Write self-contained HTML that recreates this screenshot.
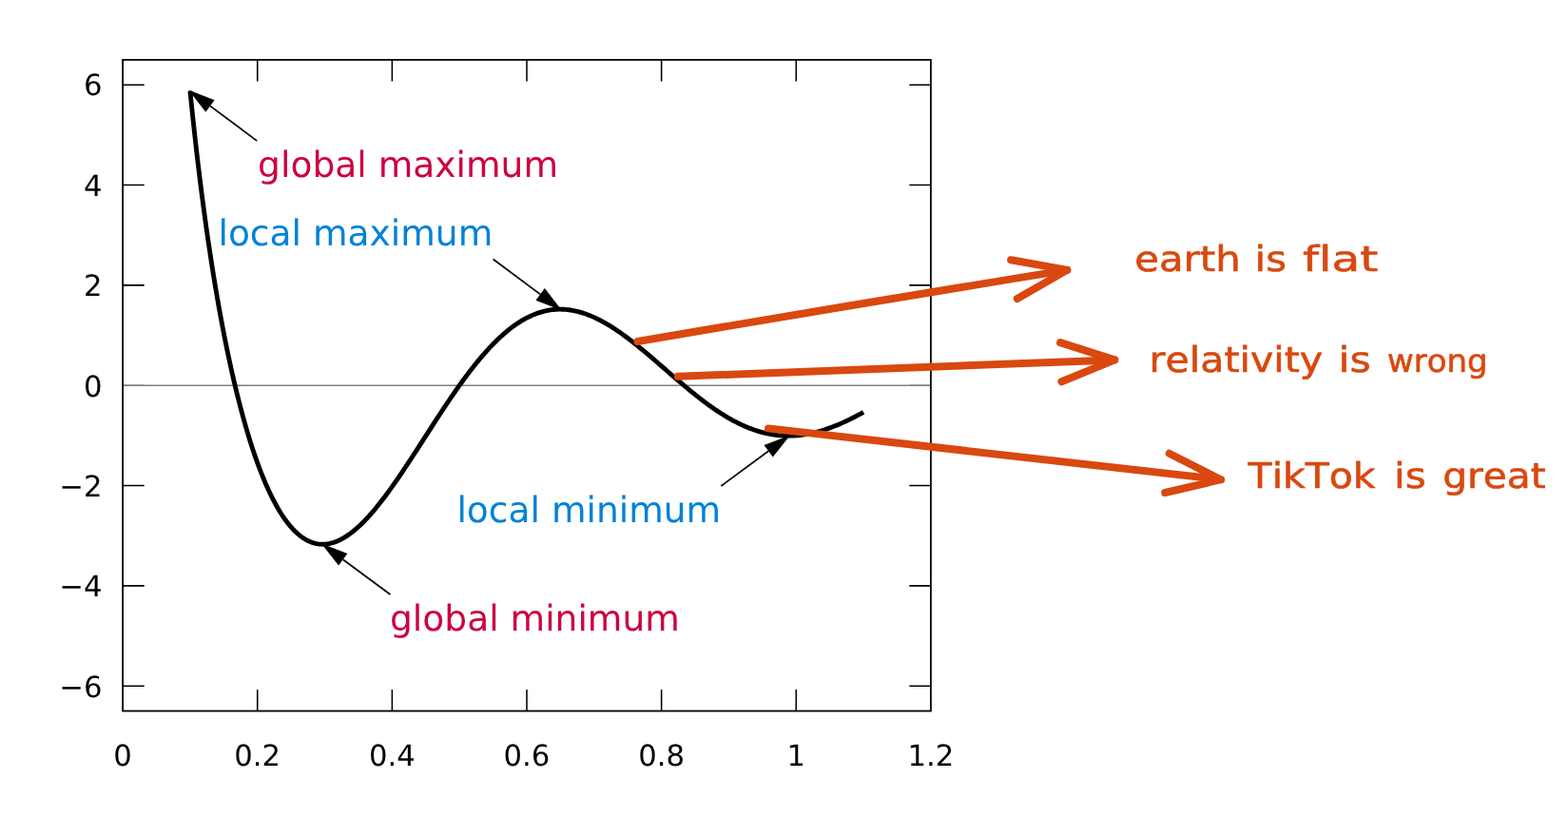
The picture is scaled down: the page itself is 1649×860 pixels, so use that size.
<!DOCTYPE html>
<html lang="en">
<head>
<meta charset="utf-8">
<title>Extrema example</title>
<style>
html,body{margin:0;padding:0;background:#fff;}
body{width:1649px;height:860px;overflow:hidden;}
svg{display:block;}
text{text-rendering:geometricPrecision;}
.tick{font-family:"DejaVu Sans","Liberation Sans",sans-serif;font-size:30.7px;fill:#000;}
.lab{font-family:"DejaVu Sans","Liberation Sans",sans-serif;font-size:37.6px;}
.hand{font-family:"DejaVu Sans","Liberation Sans",sans-serif;font-size:37px;fill:#d9480f;stroke:#d9480f;stroke-width:0.6px;stroke-linejoin:round;font-variant-ligatures:none;font-kerning:none;}
</style>
</head>
<body>
<svg width="1649" height="860" viewBox="0 0 1649 860">
<rect x="0" y="0" width="1649" height="860" fill="#ffffff"/>

<g id="ticks" stroke="#000" stroke-width="1.55" fill="none">
<path d="M129.10,721.17h22.6M978.90,721.17h-22.6M129.10,615.85h22.6M978.90,615.85h-22.6M129.10,510.52h22.6M978.90,510.52h-22.6M129.10,299.88h22.6M978.90,299.88h-22.6M129.10,194.55h22.6M978.90,194.55h-22.6M129.10,89.23h22.6M978.90,89.23h-22.6M270.73,747.50v-22.6M270.73,62.90v22.6M412.37,747.50v-22.6M412.37,62.90v22.6M554.00,747.50v-22.6M554.00,62.90v22.6M695.63,747.50v-22.6M695.63,62.90v22.6M837.27,747.50v-22.6M837.27,62.90v22.6"/>
</g>
<g id="ticklabels" class="tick">
<text x="107.5" y="733.00" text-anchor="end">−6</text>
<text x="107.5" y="627.00" text-anchor="end">−4</text>
<text x="107.5" y="522.00" text-anchor="end">−2</text>
<text x="107.5" y="417.00" text-anchor="end">0</text>
<text x="107.5" y="311.00" text-anchor="end">2</text>
<text x="107.5" y="206.00" text-anchor="end">4</text>
<text x="107.5" y="100.00" text-anchor="end">6</text>
<text x="129.10" y="805" text-anchor="middle">0</text>
<text x="270.73" y="805" text-anchor="middle">0.2</text>
<text x="412.37" y="805" text-anchor="middle">0.4</text>
<text x="554.00" y="805" text-anchor="middle">0.6</text>
<text x="695.63" y="805" text-anchor="middle">0.8</text>
<text x="837.27" y="805" text-anchor="middle">1</text>
<text x="978.90" y="805" text-anchor="middle">1.2</text>
</g>
<path id="zero" d="M129.10,405.30H978.90" stroke="#808080" stroke-width="1.4" fill="none"/>
<path id="zerotick" d="M129.10,405.30h22.6M978.90,405.30h-22.6" stroke="#808080" stroke-width="1.55" fill="none"/>
<rect id="frame" x="129.10" y="62.90" width="849.80" height="684.60" fill="none" stroke="#000" stroke-width="1.8"/>
<path id="curve" d="M199.92,95.66 L201.69,113.09 L203.46,129.84 L205.23,145.97 L207.00,161.50 L208.77,176.48 L210.54,190.92 L212.31,204.87 L214.08,218.35 L215.85,231.38 L217.62,243.98 L219.39,256.17 L221.16,267.98 L222.93,279.42 L224.70,290.50 L226.47,301.24 L228.24,311.65 L230.01,321.75 L231.78,331.55 L233.55,341.06 L235.33,350.28 L237.10,359.23 L238.87,367.92 L240.64,376.35 L242.41,384.53 L244.18,392.48 L245.95,400.19 L247.72,407.67 L249.49,414.93 L251.26,421.98 L253.03,428.81 L254.80,435.44 L256.57,441.87 L258.34,448.10 L260.11,454.14 L261.88,459.99 L263.65,465.66 L265.42,471.15 L267.19,476.46 L268.96,481.60 L270.73,486.57 L272.50,491.37 L274.27,496.00 L276.04,500.48 L277.81,504.79 L279.59,508.95 L281.36,512.96 L283.13,516.81 L284.90,520.52 L286.67,524.08 L288.44,527.49 L290.21,530.76 L291.98,533.90 L293.75,536.89 L295.52,539.75 L297.29,542.47 L299.06,545.07 L300.83,547.53 L302.60,549.86 L304.37,552.07 L306.14,554.15 L307.91,556.11 L309.68,557.95 L311.45,559.66 L313.22,561.26 L314.99,562.75 L316.76,564.12 L318.53,565.37 L320.31,566.52 L322.08,567.55 L323.85,568.48 L325.62,569.30 L327.39,570.01 L329.16,570.62 L330.93,571.14 L332.70,571.55 L334.47,571.86 L336.24,572.07 L338.01,572.19 L339.78,572.21 L341.55,572.15 L343.32,571.99 L345.09,571.74 L346.86,571.41 L348.63,570.98 L350.40,570.48 L352.17,569.89 L353.94,569.22 L355.71,568.47 L357.48,567.64 L359.25,566.74 L361.02,565.76 L362.79,564.70 L364.57,563.58 L366.34,562.38 L368.11,561.11 L369.88,559.78 L371.65,558.38 L373.42,556.92 L375.19,555.40 L376.96,553.81 L378.73,552.16 L380.50,550.46 L382.27,548.70 L384.04,546.89 L385.81,545.02 L387.58,543.10 L389.35,541.13 L391.12,539.11 L392.89,537.05 L394.66,534.94 L396.43,532.79 L398.20,530.59 L399.97,528.36 L401.74,526.08 L403.51,523.77 L405.28,521.43 L407.06,519.04 L408.83,516.63 L410.60,514.18 L412.37,511.71 L414.14,509.21 L415.91,506.68 L417.68,504.12 L419.45,501.55 L421.22,498.95 L422.99,496.33 L424.76,493.69 L426.53,491.03 L428.30,488.36 L430.07,485.67 L431.84,482.97 L433.61,480.26 L435.38,477.54 L437.15,474.81 L438.92,472.07 L440.69,469.33 L442.46,466.58 L444.23,463.83 L446.00,461.08 L447.77,458.33 L449.55,455.58 L451.32,452.83 L453.09,450.08 L454.86,447.34 L456.63,444.61 L458.40,441.88 L460.17,439.17 L461.94,436.46 L463.71,433.76 L465.48,431.08 L467.25,428.41 L469.02,425.76 L470.79,423.12 L472.56,420.50 L474.33,417.90 L476.10,415.31 L477.87,412.75 L479.64,410.21 L481.41,407.69 L483.18,405.20 L484.95,402.73 L486.72,400.29 L488.49,397.87 L490.26,395.48 L492.04,393.12 L493.81,390.79 L495.58,388.49 L497.35,386.22 L499.12,383.99 L500.89,381.78 L502.66,379.61 L504.43,377.48 L506.20,375.38 L507.97,373.32 L509.74,371.29 L511.51,369.30 L513.28,367.35 L515.05,365.44 L516.82,363.56 L518.59,361.73 L520.36,359.94 L522.13,358.19 L523.90,356.48 L525.67,354.81 L527.44,353.19 L529.21,351.61 L530.98,350.07 L532.75,348.57 L534.53,347.12 L536.30,345.72 L538.07,344.36 L539.84,343.05 L541.61,341.78 L543.38,340.55 L545.15,339.38 L546.92,338.25 L548.69,337.16 L550.46,336.13 L552.23,335.14 L554.00,334.19 L555.77,333.30 L557.54,332.45 L559.31,331.65 L561.08,330.89 L562.85,330.18 L564.62,329.52 L566.39,328.91 L568.16,328.35 L569.93,327.83 L571.70,327.36 L573.47,326.93 L575.25,326.55 L577.02,326.22 L578.79,325.93 L580.56,325.70 L582.33,325.50 L584.10,325.35 L585.87,325.25 L587.64,325.19 L589.41,325.18 L591.18,325.21 L592.95,325.29 L594.72,325.41 L596.49,325.57 L598.26,325.77 L600.03,326.02 L601.80,326.31 L603.57,326.64 L605.34,327.01 L607.11,327.42 L608.88,327.88 L610.65,328.37 L612.42,328.90 L614.19,329.47 L615.96,330.07 L617.73,330.72 L619.51,331.40 L621.28,332.11 L623.05,332.87 L624.82,333.65 L626.59,334.47 L628.36,335.32 L630.13,336.21 L631.90,337.13 L633.67,338.08 L635.44,339.06 L637.21,340.07 L638.98,341.11 L640.75,342.17 L642.52,343.27 L644.29,344.39 L646.06,345.54 L647.83,346.71 L649.60,347.90 L651.37,349.12 L653.14,350.37 L654.91,351.63 L656.68,352.92 L658.45,354.22 L660.23,355.55 L662.00,356.89 L663.77,358.26 L665.54,359.64 L667.31,361.03 L669.08,362.44 L670.85,363.87 L672.62,365.31 L674.39,366.76 L676.16,368.22 L677.93,369.70 L679.70,371.18 L681.47,372.67 L683.24,374.18 L685.01,375.69 L686.78,377.20 L688.55,378.73 L690.32,380.25 L692.09,381.79 L693.86,383.32 L695.63,384.86 L697.40,386.40 L699.17,387.94 L700.94,389.48 L702.71,391.02 L704.49,392.56 L706.26,394.09 L708.03,395.62 L709.80,397.15 L711.57,398.67 L713.34,400.19 L715.11,401.70 L716.88,403.21 L718.65,404.70 L720.42,406.19 L722.19,407.67 L723.96,409.14 L725.73,410.59 L727.50,412.04 L729.27,413.47 L731.04,414.89 L732.81,416.30 L734.58,417.69 L736.35,419.07 L738.12,420.43 L739.89,421.77 L741.66,423.10 L743.43,424.41 L745.20,425.70 L746.98,426.98 L748.75,428.23 L750.52,429.47 L752.29,430.68 L754.06,431.87 L755.83,433.04 L757.60,434.19 L759.37,435.32 L761.14,436.42 L762.91,437.50 L764.68,438.56 L766.45,439.59 L768.22,440.60 L769.99,441.58 L771.76,442.54 L773.53,443.47 L775.30,444.37 L777.07,445.25 L778.84,446.10 L780.61,446.93 L782.38,447.72 L784.15,448.49 L785.92,449.23 L787.70,449.94 L789.47,450.63 L791.24,451.28 L793.01,451.91 L794.78,452.50 L796.55,453.07 L798.32,453.61 L800.09,454.11 L801.86,454.59 L803.63,455.04 L805.40,455.46 L807.17,455.85 L808.94,456.20 L810.71,456.53 L812.48,456.83 L814.25,457.10 L816.02,457.33 L817.79,457.54 L819.56,457.72 L821.33,457.87 L823.10,457.98 L824.87,458.07 L826.64,458.13 L828.41,458.16 L830.19,458.16 L831.96,458.13 L833.73,458.07 L835.50,457.98 L837.27,457.86 L839.04,457.72 L840.81,457.54 L842.58,457.34 L844.35,457.11 L846.12,456.85 L847.89,456.57 L849.66,456.25 L851.43,455.91 L853.20,455.55 L854.97,455.16 L856.74,454.74 L858.51,454.30 L860.28,453.83 L862.05,453.34 L863.82,452.82 L865.59,452.28 L867.36,451.72 L869.13,451.13 L870.90,450.52 L872.68,449.89 L874.45,449.23 L876.22,448.56 L877.99,447.86 L879.76,447.15 L881.53,446.41 L883.30,445.66 L885.07,444.88 L886.84,444.09 L888.61,443.28 L890.38,442.45 L892.15,441.61 L893.92,440.75 L895.69,439.87 L897.46,438.98 L899.23,438.07 L901.00,437.15 L902.77,436.22 L904.54,435.27 L906.31,434.31 L908.08,433.34" fill="none" stroke="#000" stroke-width="4.85" stroke-linejoin="round" stroke-linecap="butt"/>
<g id="arrows" stroke="#000" stroke-width="1.75" fill="#000" stroke-linejoin="miter">
<path d="M270.30,148.10L220.97,111.41" fill="none"/>
<path d="M198.10,94.40L225.62,105.15L216.31,117.67Z" stroke="none"/>
<path d="M518.60,272.50L568.14,309.38" fill="none"/>
<path d="M591.00,326.40L563.48,315.64L572.80,303.12Z" stroke="none"/>
<path d="M758.30,511.00L808.15,474.30" fill="none"/>
<path d="M831.10,457.40L812.77,480.58L803.52,468.02Z" stroke="none"/>
<path d="M410.40,625.00L360.71,588.25" fill="none"/>
<path d="M337.80,571.30L365.35,581.98L356.07,594.52Z" stroke="none"/>
</g>
<text class="lab" x="271.1" y="186" fill="#cc0040">global maximum</text>
<text class="lab" x="229.45" y="258" fill="#0082d6">local maximum</text>
<text class="lab" x="480.4" y="549" fill="#0082d6">local minimum</text>
<text class="lab" x="410.0" y="663" fill="#cc0040">global minimum</text>
<g id="oarrows" stroke="#d9480f" stroke-width="8" fill="none" stroke-linecap="round" stroke-linejoin="round">
<path d="M670.5,359.0Q896.4,320.4 1122.3,283.9"/>
<path d="M1063.1,273.2L1122.3,283.9L1069.8,314.0"/>
<path d="M712.9,395.8Q942.6,387.1 1172.3,378.4"/>
<path d="M1115.0,360.1L1172.3,378.4L1116.4,401.3"/>
<path d="M808.0,450.4Q1046.0,477.3 1284.0,504.2"/>
<path d="M1229.7,476.8L1284.0,504.2L1225.2,518.0"/>
</g>
<text class="hand" y="285"><tspan x="1193.2" textLength="111.6" lengthAdjust="spacingAndGlyphs">earth</tspan> <tspan x="1319.6" textLength="33.4" lengthAdjust="spacingAndGlyphs">is</tspan> <tspan x="1370.0" textLength="79.4" lengthAdjust="spacingAndGlyphs">flat</tspan></text>
<text class="hand" y="391"><tspan x="1208.6" textLength="182.6" lengthAdjust="spacingAndGlyphs">relativity</tspan> <tspan x="1407.6" textLength="34.0" lengthAdjust="spacingAndGlyphs">is</tspan> <tspan x="1459.0" textLength="105.6" lengthAdjust="spacingAndGlyphs" font-size="33.5">wrong</tspan></text>
<text class="hand" y="513"><tspan x="1312.6" textLength="134.0" lengthAdjust="spacingAndGlyphs">TikTok</tspan> <tspan x="1466.0" textLength="33.8" lengthAdjust="spacingAndGlyphs">is</tspan> <tspan x="1517.2" textLength="108.4" lengthAdjust="spacingAndGlyphs">great</tspan></text>
</svg>
</body>
</html>
